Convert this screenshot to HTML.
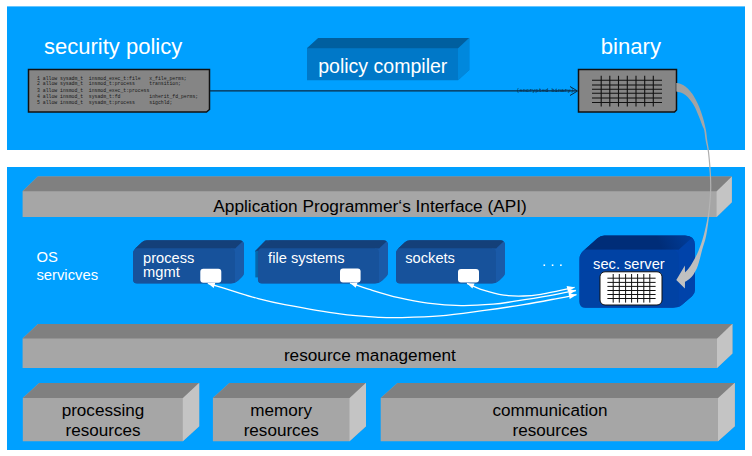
<!DOCTYPE html>
<html><head><meta charset="utf-8">
<style>
html,body{margin:0;padding:0;background:#fff;}
body{width:752px;height:456px;overflow:hidden;position:relative;}
svg{position:absolute;left:0;top:0;}
text{font-family:"Liberation Sans",sans-serif;}
.mono{font-family:"Liberation Mono",monospace;white-space:pre;}
</style></head>
<body>
<svg width="752" height="456" viewBox="0 0 752 456">
<defs>
  <linearGradient id="sgrad" gradientUnits="userSpaceOnUse" x1="662" y1="250" x2="692" y2="236">
    <stop offset="0" stop-color="#002d78"/>
    <stop offset="1" stop-color="#003d9a"/>
  </linearGradient>
  <linearGradient id="garr" gradientUnits="userSpaceOnUse" x1="0" y1="83" x2="0" y2="285">
    <stop offset="0" stop-color="#a0a0a0"/>
    <stop offset="1" stop-color="#c2c2c2"/>
  </linearGradient>
</defs>
<rect x="7" y="6.4" width="738" height="143.6" fill="#00a0ff"/>
<rect x="7" y="167" width="738" height="283" fill="#00a0ff"/>
<text x="44" y="53.5" font-size="22" fill="#fff">security policy</text>
<path d="M28.5 69.5 H209.5 V109.5 L206.5 112 H28.5 Z" fill="#858585" stroke="#111" stroke-width="1.5"/>
<text class="mono" x="37" y="79.5" font-size="4.8" fill="#1a1a1a">1 allow sysadm_t  insmod_exec_t:file   x_file_perms;</text>
<text class="mono" x="37" y="85.4" font-size="4.8" fill="#1a1a1a">2 allow sysadm_t  insmod_t:process     transition;</text>
<text class="mono" x="37" y="92.2" font-size="4.8" fill="#1a1a1a">3 allow insmod_t  insmod_exec_t:process</text>
<text class="mono" x="37" y="98.2" font-size="4.8" fill="#1a1a1a">4 allow insmod_t  sysadm_t:fd          inherit_fd_perms;</text>
<text class="mono" x="37" y="104.1" font-size="4.8" fill="#1a1a1a">5 allow insmod_t  sysadm_t:process     sigchld;</text>
<line x1="210" y1="90.8" x2="577" y2="90.8" stroke="#0a2a44" stroke-width="1.2"/>
<text class="mono" x="516.4" y="92.2" font-size="5" fill="#0a2a44" textLength="57.5" lengthAdjust="spacingAndGlyphs">(encrypted binary)</text>
<path d="M570 86.5 L577.5 91 L570 95.5" fill="none" stroke="#0a2a44" stroke-width="1"/>
<clipPath id="c1"><path d="M307.00 48.30 L318.30 38.00 L469.30 38.00 L469.30 70.00 L458.00 80.30 L307.00 80.30 Z"/></clipPath>
<g clip-path="url(#c1)">
<rect x="305" y="36.0" width="166.3" height="46.3" fill="#0078c8"/>
<polygon points="458.00,85.30 458.00,48.30 474.30,33.00 474.30,85.30" fill="#0088dd"/>
<polygon points="302.00,48.30 458.00,48.30 474.30,33.00 302.00,33.00" fill="#005f9f"/>

</g>
<text x="318.2" y="72.8" font-size="19.55" fill="#fff">policy compiler</text>
<text x="600.8" y="53.6" font-size="22.1" fill="#fff">binary</text>
<path d="M578.5 69.5 H676.5 V110 L674.5 112 H578.5 Z" fill="#858585" stroke="#111" stroke-width="1.5"/>
<g stroke="#111" stroke-width="1.1">
<line x1="592" y1="80.3" x2="662" y2="80.3"/>
<line x1="592" y1="85" x2="662" y2="85" stroke="#333" stroke-width="1.6"/>
<line x1="592" y1="89.2" x2="662" y2="89.2"/>
<line x1="592" y1="93.3" x2="662" y2="93.3"/>
<line x1="592" y1="98" x2="662" y2="98" stroke="#333" stroke-width="1.6"/>
<line x1="592" y1="102.5" x2="662" y2="102.5"/>
<line x1="601.2" y1="75.8" x2="601.2" y2="106.6"/>
<line x1="609.8" y1="75.8" x2="609.8" y2="106.6"/>
<line x1="618.5" y1="75.8" x2="618.5" y2="106.6"/>
<line x1="627.3" y1="75.8" x2="627.3" y2="106.6"/>
<line x1="636" y1="75.8" x2="636" y2="106.6"/>
<line x1="644.7" y1="75.8" x2="644.7" y2="106.6"/>
<line x1="653.3" y1="75.8" x2="653.3" y2="106.6"/>
</g>
<clipPath id="c2"><path d="M22.60 191.30 L37.80 176.50 L731.80 176.50 L731.80 202.30 L716.60 217.10 L22.60 217.10 Z"/></clipPath>
<g clip-path="url(#c2)">
<rect x="20.6" y="174.5" width="713.2" height="44.6" fill="#a6a6a6"/>
<polygon points="716.60,222.10 716.60,191.30 736.80,171.50 736.80,222.10" fill="#c4c4c4"/>
<polygon points="17.60,191.30 716.60,191.30 736.80,171.50 17.60,171.50" fill="#808080"/>

</g>
<text x="213.3" y="211.6" font-size="17.25" fill="#000">Application Programmer‘s Interface (API)</text>
<text x="36.4" y="261.6" font-size="14.8" fill="#fff">OS</text>
<text x="36.4" y="279.6" font-size="14.8" fill="#fff">servicves</text>
<clipPath id="c3"><path d="M133.00 253.60 Q133.00 250.60 135.18 248.54 L141.82 242.26 Q144.00 240.20 147.00 240.20 L239.00 240.20 Q244.00 240.20 244.00 245.20 L244.00 272.00 Q244.00 275.00 241.81 277.05 L237.92 280.67 Q235.00 283.40 231.00 283.40 L137.00 283.40 Q133.00 283.40 133.00 279.40 Z"/></clipPath>
<g clip-path="url(#c3)">
<rect x="131" y="238.2" width="115" height="47.199999999999996" fill="#17529b"/>
<polygon points="235.00,288.40 235.00,248.60 249.00,235.20 249.00,288.40" fill="#1a5aa8"/>
<polygon points="128.00,248.60 235.00,248.60 249.00,235.20 128.00,235.20" fill="#144079"/>
<rect x="231" y="248.6" width="4" height="4" fill="#1a5aa8"/>
<rect x="133" y="248.6" width="102" height="34.8" rx="4" fill="#17529b"/>

</g>
<text x="143.1" y="262.7" font-size="14.65" fill="#fff">process</text>
<text x="143.1" y="276.5" font-size="14.65" fill="#fff">mgmt</text>
<rect x="200.3" y="268.8" width="21" height="14" rx="3" fill="#fff"/>
<polygon points="255.3,250.8 265.6,240.2 272,240.2 272,252 255.3,252" fill="#144079"/>
<rect x="255.3" y="250.8" width="3.5" height="26.6" fill="#0667ab"/>
<clipPath id="c4"><path d="M257.90 253.60 Q257.90 250.60 260.08 248.54 L266.72 242.26 Q268.90 240.20 271.90 240.20 L383.00 240.20 Q388.00 240.20 388.00 245.20 L388.00 272.00 Q388.00 275.00 385.81 277.05 L381.92 280.67 Q379.00 283.40 375.00 283.40 L261.90 283.40 Q257.90 283.40 257.90 279.40 Z"/></clipPath>
<g clip-path="url(#c4)">
<rect x="255.89999999999998" y="238.2" width="134.1" height="47.199999999999996" fill="#17529b"/>
<polygon points="379.00,288.40 379.00,248.60 393.00,235.20 393.00,288.40" fill="#1a5aa8"/>
<polygon points="252.90,248.60 379.00,248.60 393.00,235.20 252.90,235.20" fill="#144079"/>
<rect x="375.0" y="248.6" width="4" height="4" fill="#1a5aa8"/>
<rect x="257.9" y="248.6" width="121.1" height="34.8" rx="4" fill="#17529b"/>

</g>
<text x="268.1" y="262.7" font-size="14.65" fill="#fff">file systems</text>
<rect x="340" y="268.5" width="20.6" height="14" rx="3" fill="#fff"/>
<clipPath id="c5"><path d="M396.00 253.60 Q396.00 250.60 398.18 248.54 L404.82 242.26 Q407.00 240.20 410.00 240.20 L500.00 240.20 Q505.00 240.20 505.00 245.20 L505.00 272.00 Q505.00 275.00 502.81 277.05 L498.92 280.67 Q496.00 283.40 492.00 283.40 L400.00 283.40 Q396.00 283.40 396.00 279.40 Z"/></clipPath>
<g clip-path="url(#c5)">
<rect x="394" y="238.2" width="113" height="47.199999999999996" fill="#17529b"/>
<polygon points="496.00,288.40 496.00,248.60 510.00,235.20 510.00,288.40" fill="#1a5aa8"/>
<polygon points="391.00,248.60 496.00,248.60 510.00,235.20 391.00,235.20" fill="#144079"/>
<rect x="492" y="248.6" width="4" height="4" fill="#1a5aa8"/>
<rect x="396" y="248.6" width="100" height="34.8" rx="4" fill="#17529b"/>

</g>
<text x="405.3" y="262.7" font-size="14.65" fill="#fff">sockets</text>
<rect x="458" y="269" width="21" height="13.5" rx="3" fill="#fff"/>
<g fill="#fff"><rect x="543.5" y="264.4" width="1.6" height="1.6"/><rect x="551.8" y="264.4" width="1.6" height="1.6"/><rect x="560.1" y="264.4" width="1.6" height="1.6"/></g>
<clipPath id="c6"><path d="M579.40 259.40 Q579.40 254.40 583.12 251.06 L597.43 238.18 Q600.40 235.50 604.40 235.50 L685.00 235.50 Q695.00 235.50 695.00 245.50 L695.00 289.50 Q695.00 293.50 691.99 296.13 L682.37 304.51 Q678.60 307.80 673.60 307.80 L585.40 307.80 Q579.40 307.80 579.40 301.80 Z"/></clipPath>
<g clip-path="url(#c6)">
<rect x="577.4" y="233.5" width="119.6" height="76.3" fill="#0042a4"/>
<polygon points="678.60,312.80 678.60,249.80 700.00,230.50 700.00,312.80" fill="#0043aa"/>
<polygon points="574.40,249.80 678.60,249.80 700.00,230.50 574.40,230.50" fill="url(#sgrad)"/>
<rect x="672.6" y="249.8" width="6" height="6" fill="#0043aa"/>
<rect x="579.4" y="249.8" width="99.2" height="58" rx="6" fill="#0042a4"/>

</g>
<text x="593.1" y="268.8" font-size="14.65" fill="#fff">sec. server</text>
<rect x="600" y="271.8" width="62" height="33.2" rx="5" fill="#fff" stroke="#111" stroke-width="1"/>
<g stroke="#111" stroke-width="1">
<line x1="607.4" y1="278.2" x2="655.6" y2="278.2"/>
<line x1="607.4" y1="282.4" x2="655.6" y2="282.4"/>
<line x1="607.4" y1="286.4" x2="655.6" y2="286.4"/>
<line x1="607.4" y1="290.5" x2="655.6" y2="290.5"/>
<line x1="607.4" y1="294.5" x2="655.6" y2="294.5"/>
<line x1="607.4" y1="298.5" x2="655.6" y2="298.5"/>
<line x1="613.2" y1="274" x2="613.2" y2="302.6"/>
<line x1="619.3" y1="274" x2="619.3" y2="302.6"/>
<line x1="625.6" y1="274" x2="625.6" y2="302.6"/>
<line x1="631.6" y1="274" x2="631.6" y2="302.6"/>
<line x1="637.6" y1="274" x2="637.6" y2="302.6"/>
<line x1="643.8" y1="274" x2="643.8" y2="302.6"/>
<line x1="649.8" y1="274" x2="649.8" y2="302.6"/>
</g>
<g fill="none" stroke="#fff" stroke-width="1.3">
<path d="M207.80 283.30 C211.77 284.52 223.20 288.05 231.60 290.60 C240.00 293.15 249.33 296.27 258.20 298.60 C267.07 300.93 271.18 302.05 284.80 304.60 C298.42 307.15 324.07 311.78 339.90 313.90 C355.73 316.02 369.83 316.68 379.80 317.30 C389.77 317.92 389.67 317.83 399.70 317.60 C409.73 317.37 426.18 317.07 440.00 315.90 C453.82 314.73 468.67 312.48 482.60 310.60 C496.53 308.72 511.00 306.65 523.60 304.60 C536.20 302.55 549.38 299.95 558.20 298.30 C567.02 296.65 573.45 295.30 576.50 294.70"/>
<path d="M350.00 283.00 C353.22 284.07 361.22 286.95 369.30 289.40 C377.38 291.85 388.75 295.40 398.50 297.70 C408.25 300.00 417.33 301.88 427.80 303.20 C438.27 304.52 450.40 305.43 461.30 305.60 C472.20 305.77 484.25 304.93 493.20 304.20 C502.15 303.47 505.60 302.63 515.00 301.20 C524.40 299.77 539.45 297.38 549.60 295.60 C559.75 293.82 571.52 291.35 575.90 290.50"/>
<path d="M467.00 283.30 C469.60 284.40 476.47 287.92 482.60 289.90 C488.73 291.88 496.97 294.18 503.80 295.20 C510.63 296.22 517.42 296.15 523.60 296.00 C529.78 295.85 535.13 295.17 540.90 294.30 C546.67 293.43 552.58 291.97 558.20 290.80 C563.82 289.63 571.87 287.88 574.60 287.30"/>
</g>
<g fill="#fff">
<polygon points="207.80,283.30 213.67,288.03 215.31,282.68"/>
<polygon points="576.50,294.70 568.56,293.20 569.72,299.09"/>
<polygon points="350.00,283.00 355.76,287.86 357.53,282.55"/>
<polygon points="575.90,290.50 567.97,288.98 569.11,294.87"/>
<polygon points="467.00,283.30 472.36,288.61 474.54,283.45"/>
<polygon points="574.60,287.30 566.64,285.93 567.89,291.80"/>
</g>
<clipPath id="c7"><path d="M22.60 338.50 L38.00 323.90 L732.40 323.90 L732.40 353.40 L717.00 368.00 L22.60 368.00 Z"/></clipPath>
<g clip-path="url(#c7)">
<rect x="20.6" y="321.9" width="713.8" height="48.1" fill="#a6a6a6"/>
<polygon points="717.00,373.00 717.00,338.50 737.40,318.90 737.40,373.00" fill="#c4c4c4"/>
<polygon points="17.60,338.50 717.00,338.50 737.40,318.90 17.60,318.90" fill="#808080"/>

</g>
<text x="283.9" y="360.7" font-size="17.2" fill="#000">resource management</text>
<clipPath id="c8"><path d="M22.80 398.00 L39.20 383.00 L199.20 383.00 L199.20 426.20 L182.80 441.20 L22.80 441.20 Z"/></clipPath>
<g clip-path="url(#c8)">
<rect x="20.8" y="381" width="180.4" height="62.2" fill="#a6a6a6"/>
<polygon points="182.80,446.20 182.80,398.00 204.20,378.00 204.20,446.20" fill="#c4c4c4"/>
<polygon points="17.80,398.00 182.80,398.00 204.20,378.00 17.80,378.00" fill="#808080"/>

</g>
<text x="103" y="415.7" font-size="17.1" fill="#000" text-anchor="middle">processing</text>
<text x="103" y="435.9" font-size="17.1" fill="#000" text-anchor="middle">resources</text>
<clipPath id="c9"><path d="M212.90 398.00 L229.40 383.00 L366.00 383.00 L366.00 426.20 L349.50 441.20 L212.90 441.20 Z"/></clipPath>
<g clip-path="url(#c9)">
<rect x="210.9" y="381" width="157.1" height="62.2" fill="#a6a6a6"/>
<polygon points="349.50,446.20 349.50,398.00 371.00,378.00 371.00,446.20" fill="#c4c4c4"/>
<polygon points="207.90,398.00 349.50,398.00 371.00,378.00 207.90,378.00" fill="#808080"/>

</g>
<text x="281.2" y="415.7" font-size="17.1" fill="#000" text-anchor="middle">memory</text>
<text x="281.2" y="435.9" font-size="17.1" fill="#000" text-anchor="middle">resources</text>
<clipPath id="c10"><path d="M380.70 398.00 L397.50 383.00 L734.80 383.00 L734.80 426.20 L718.00 441.20 L380.70 441.20 Z"/></clipPath>
<g clip-path="url(#c10)">
<rect x="378.7" y="381" width="358.1" height="62.2" fill="#a6a6a6"/>
<polygon points="718.00,446.20 718.00,398.00 739.80,378.00 739.80,446.20" fill="#c4c4c4"/>
<polygon points="375.70,398.00 718.00,398.00 739.80,378.00 375.70,378.00" fill="#808080"/>

</g>
<text x="550" y="415.7" font-size="17.1" fill="#000" text-anchor="middle">communication</text>
<text x="550" y="435.9" font-size="17.1" fill="#000" text-anchor="middle">resources</text>
<path d="M676.30 83.10 C677.05 83.23 679.28 83.33 680.80 83.90 C682.32 84.47 683.87 85.30 685.40 86.50 C686.93 87.70 688.48 89.28 690.00 91.10 C691.52 92.92 693.00 94.83 694.50 97.40 C696.00 99.97 697.58 103.08 699.00 106.50 C700.42 109.92 701.85 113.98 703.00 117.90 C704.15 121.82 705.20 126.32 705.90 130.00 C706.60 133.68 706.67 136.33 707.20 140.00 C707.73 143.67 708.48 146.50 709.10 152.00 C709.72 157.50 710.55 166.33 710.90 173.00 C711.25 179.67 711.50 184.92 711.20 192.00 C710.90 199.08 709.95 208.17 709.10 215.50 C708.25 222.83 707.27 230.25 706.10 236.00 C704.93 241.75 703.47 245.07 702.10 250.00 C700.73 254.93 699.28 261.62 697.90 265.60 C696.52 269.58 695.33 271.60 693.80 273.90 C692.27 276.20 690.17 278.10 688.70 279.40 C687.23 280.70 685.62 281.32 685.00 281.70 L684.9 288.6 L676.3 279.9 L684.9 265.6 L685 272.5 C685.67 271.75 687.43 270.22 689.00 268.00  C690.57 265.78 692.77 262.20 694.40 259.20  C696.03 256.20 697.28 253.87 698.80 250.00  C700.32 246.13 701.98 241.75 703.50 236.00  C705.02 230.25 706.82 222.83 707.90 215.50  C708.98 208.17 709.70 199.08 710.00 192.00  C710.30 184.92 710.05 179.67 709.70 173.00  C709.35 166.33 708.58 157.50 707.90 152.00  C707.22 146.50 706.22 143.67 705.60 140.00  C704.98 136.33 704.72 132.35 704.20 130.00  C703.68 127.65 703.37 128.12 702.50 125.90  C701.63 123.68 700.33 119.93 699.00 116.70  C697.67 113.47 696.00 109.33 694.50 106.50  C693.00 103.67 691.52 101.60 690.00 99.70  C688.48 97.80 686.93 96.28 685.40 95.10  C683.87 93.92 682.32 93.22 680.80 92.60  C679.28 91.98 677.05 91.60 676.30 91.40 Z" fill="url(#garr)"/>
</svg>
</body></html>
